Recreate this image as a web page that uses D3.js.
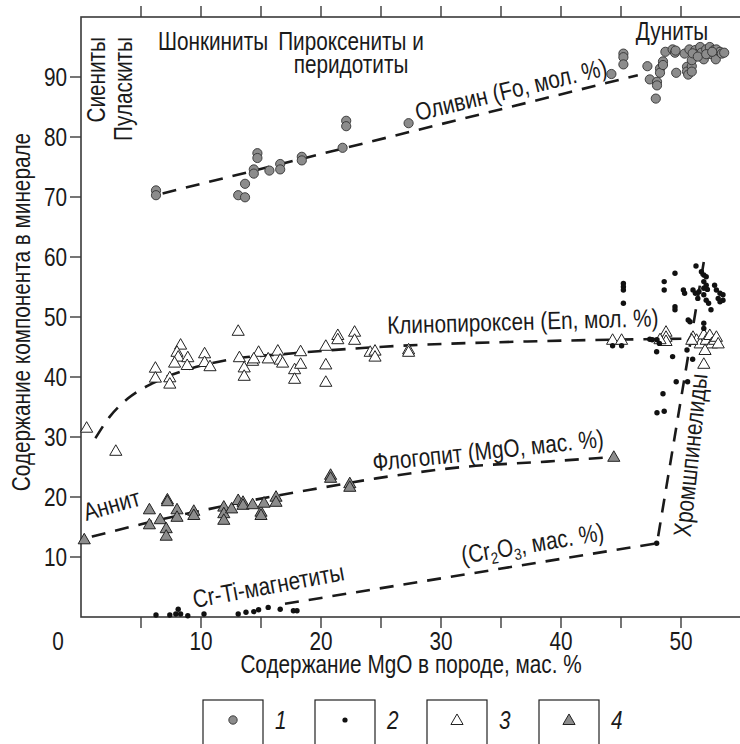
<!DOCTYPE html>
<html>
<head>
<meta charset="utf-8">
<script src="https://cdn.jsdelivr.net/npm/d3@7"></script>
<style>
  body { margin: 0; background: #fff; }
  svg text { font-family: "Liberation Sans", Arial, sans-serif; fill: #1a1a1a; }
</style>
</head>
<body>
<svg id="chart" width="740" height="744"></svg>
<script>
// ---- data (MgO in rock, component in mineral) ----
const olivine = [
  [6.25, 71.1], [6.25, 70.3], [13.1, 70.3], [13.67, 69.95], [13.67, 72.2],
  [14.4, 74.6], [14.4, 73.9], [14.7, 77.3], [14.7, 76.5], [15.7, 74.4],
  [16.6, 75.5], [16.6, 74.6], [18.4, 76.7], [18.4, 76.1], [21.8, 78.2],
  [22.1, 82.7], [22.1, 81.8], [27.3, 82.3], [44.2, 90.5], [45.2, 93.9],
  [45.2, 93.3], [45.2, 92.1], [47.2, 91.8], [47.4, 89.6], [48.0, 89.2],
  [48.0, 88.6], [47.9, 86.4], [48.25, 91.4], [48.25, 90.7], [48.5, 92.6],
  [48.5, 92.0], [48.7, 94.2], [49.3, 94.6], [49.5, 94.05], [49.55, 94.4],
  [49.6, 90.7], [50.3, 93.9], [50.5, 91.7], [50.5, 90.9], [50.6, 90.4],
  [50.9, 91.8], [50.9, 90.9], [50.9, 92.8], [50.7, 94.6], [51.2, 94.5],
  [51.3, 93.8], [51.6, 95.0], [51.7, 94.05], [51.9, 92.95], [52.1, 94.6],
  [52.4, 95.0], [52.5, 93.8], [52.75, 94.5], [52.9, 92.95], [52.95, 94.6],
  [53.25, 94.2], [53.4, 93.9], [53.6, 94.05], [50.97, 93.95], [51.4, 93.4],
  [52.1, 93.8], [52.6, 94.2]
];

const chromite = [
  [48.0, 34.05], [48.6, 34.3], [47.97, 12.3], [45.2, 55.6], [45.2, 55.05],
  [45.2, 54.5], [45.2, 52.3], [44.3, 45.2], [45.05, 45.2], [47.4, 46.3],
  [47.97, 44.2], [48.6, 55.9], [48.6, 54.5], [49.5, 57.3], [49.5, 51.7],
  [49.5, 51.2], [49.3, 43.4], [48.2, 45.6], [48.5, 37.2], [49.6, 39.2],
  [50.55, 39.2], [50.6, 49.5], [50.75, 49.2], [50.2, 54.5], [50.3, 53.95],
  [51.0, 54.5], [51.2, 53.95], [51.4, 53.1], [51.25, 58.5], [51.7, 57.55],
  [51.9, 57.0], [52.1, 56.7], [51.9, 55.9], [52.1, 55.3], [52.2, 54.6],
  [51.9, 54.8], [51.5, 54.2], [51.9, 53.7], [52.1, 52.8], [52.3, 52.3],
  [52.5, 51.2], [52.8, 55.3], [52.95, 54.5], [53.25, 53.95], [53.5, 53.7],
  [53.1, 53.1], [53.5, 52.8], [53.25, 52.55], [51.9, 48.95], [51.9, 48.1],
  [50.97, 42.95], [50.5, 44.5], [48.0, 46.2], [47.6, 46.2]
];

const magnetite = [
  [6.25, 0.33], [7.4, 0.33], [7.9, 0.5], [8.1, 1.3], [8.3, 0.5],
  [8.9, 0.2], [10.25, 0.5], [13.1, 0.5], [13.75, 0.8], [14.4, 0.9],
  [14.8, 1.2], [15.6, 1.6], [16.6, 1.3], [17.7, 1.05], [18.0, 1.05]
];

const clinopyroxene = [
  [0.47, 31.55], [2.9, 27.7], [6.2, 41.55], [6.2, 39.9], [7.4, 39.95],
  [7.4, 38.9], [8.3, 45.4], [8.0, 44.2], [8.1, 43.4], [7.8, 42.4],
  [8.9, 43.3], [8.85, 42.0], [10.3, 43.95], [10.3, 42.5], [10.75, 41.8],
  [13.1, 47.7], [13.2, 43.3], [13.6, 41.6], [13.6, 40.2], [14.3, 42.7],
  [14.8, 44.2], [14.4, 43.1], [15.6, 43.1], [16.4, 44.4], [16.6, 42.9],
  [16.8, 42.4], [17.8, 41.3], [17.8, 39.7], [18.3, 44.3], [18.3, 42.2],
  [20.4, 45.2], [20.4, 42.1], [20.4, 39.2], [21.4, 47.0], [21.4, 46.3],
  [22.8, 47.55], [22.8, 46.2], [24.1, 44.2], [24.5, 44.4], [24.5, 43.4],
  [27.3, 44.6], [27.3, 44.2], [44.3, 46.2], [45.05, 46.2], [48.75, 47.55],
  [48.75, 46.7], [48.75, 46.0], [48.25, 46.3], [51.0, 46.7], [51.3, 46.2],
  [51.6, 45.6], [51.9, 47.1], [52.1, 46.2], [52.4, 47.0], [52.55, 45.6],
  [52.8, 46.2], [52.95, 46.7], [53.1, 45.6], [52.0, 44.5], [51.9, 42.2],
  [50.9, 46.2]
];

const phlogopite = [
  [0.27, 12.95], [5.7, 17.95], [5.7, 15.45], [6.6, 16.3], [7.2, 19.6],
  [7.2, 19.3], [7.1, 14.8], [7.1, 13.55], [8.0, 17.95], [8.0, 16.7],
  [9.4, 17.7], [9.4, 17.0], [11.9, 18.4], [11.9, 17.3], [11.9, 16.2],
  [12.55, 18.1], [13.1, 19.5], [13.5, 19.2], [13.5, 18.7], [14.3, 18.8],
  [15.0, 17.55], [15.0, 17.0], [15.25, 19.05], [16.25, 20.05], [16.25, 19.2],
  [20.8, 23.7], [20.8, 23.2], [22.4, 22.3], [22.4, 21.7], [44.4, 26.7]
];

// trend lines
const olivineTrend = [[6.8, 70.6], [46.4, 90.3]];
const cpxTrend = [
  [1.2, 29.8], [2.4, 33.4], [3.9, 36.4], [5.9, 38.9], [8.8, 41.2],
  [12.1, 42.8], [17.7, 43.95], [25.2, 45.05], [38.8, 46.0], [50.8, 46.4]
];
const phlTrend = [
  [0.9, 13.4], [4.5, 15.2], [7.4, 16.6], [10.2, 17.8], [14.4, 19.5],
  [19.1, 21.2], [24.6, 23.1], [32.1, 25.05], [38.8, 25.9], [43.5, 26.55]
];
const spinelTrend = [[17.0, 2.2], [48.0, 12.3], [51.9, 59.2]];

const xTicks = [5, 10, 15, 20, 25, 30, 35, 40, 45, 50];
const xLabels = [0, 10, 20, 30, 40, 50];
const yLabels = [10, 20, 30, 40, 50, 60, 70, 80, 90];
const legendItems = ["1", "2", "3", "4"];

// ---- setup ----
const svg = d3.select("#chart");
const x = d3.scaleLinear().domain([0, 55.5]).range([81, 747]);
const y = d3.scaleLinear().domain([0, 100]).range([617, 17]);

const axisColor = "#3a3a3a";
const grayFill = "#8c8c8c";
const FS = 25;
const SX = 0.83; // horizontal squeeze, the figure uses a condensed face

/** place text: translate, rotate, then squeeze horizontally */
function place(sel, px, py, rot = 0) {
  return sel.attr("transform", (d, i) => {
    const X = typeof px === "function" ? px(d, i) : px;
    const Y = typeof py === "function" ? py(d, i) : py;
    const R = typeof rot === "function" ? rot(d, i) : rot;
    return `translate(${X},${Y}) rotate(${R}) scale(${SX},1)`;
  });
}

/* --- frame & ticks --- */
svg.append("rect")
  .attr("x", x(0)).attr("y", y(100))
  .attr("width", x(55.5) - x(0)).attr("height", y(0) - y(100))
  .attr("fill", "none").attr("stroke", axisColor).attr("stroke-width", 1.6);

svg.append("g").selectAll("line").data(xTicks).join("line")
  .attr("x1", x).attr("x2", x)
  .attr("y1", y(0)).attr("y2", y(0) + 11)
  .attr("stroke", axisColor).attr("stroke-width", 1.4);

svg.append("g").selectAll("line").data(xTicks).join("line")
  .attr("x1", x).attr("x2", x)
  .attr("y1", y(100)).attr("y2", y(100) - 11)
  .attr("stroke", axisColor).attr("stroke-width", 1.4);

svg.append("g").selectAll("line").data(yLabels).join("line")
  .attr("x1", x(0) - 11).attr("x2", x(0))
  .attr("y1", y).attr("y2", y)
  .attr("stroke", axisColor).attr("stroke-width", 1.4);

place(svg.append("g").selectAll("text").data(xLabels).join("text"),
  (d) => (d === 0 ? x(d) - 23 : x(d)), y(0) + 33)
  .attr("text-anchor", "middle")
  .attr("font-size", FS)
  .text((d) => d);

place(svg.append("g").selectAll("text").data(yLabels).join("text"),
  x(0) - 14, (d) => y(d) + 9)
  .attr("text-anchor", "end")
  .attr("font-size", FS)
  .text((d) => d);

place(svg.append("text"), 411, 673)
  .attr("text-anchor", "middle").attr("font-size", FS)
  .text("Содержание MgO в породе, мас. %");

place(svg.append("text"), 30, 312, -90)
  .attr("text-anchor", "middle").attr("font-size", FS)
  .text("Содержание компонента в минерале");

/* --- trend lines --- */
const line = d3.line().x((d) => x(d[0])).y((d) => y(d[1]));
const trends = [
  { pts: olivineTrend, curve: d3.curveLinear },
  { pts: cpxTrend, curve: d3.curveMonotoneX },
  { pts: phlTrend, curve: d3.curveMonotoneX },
  { pts: spinelTrend, curve: d3.curveLinear }
];
svg.append("g").selectAll("path").data(trends).join("path")
  .attr("d", (t) => line.curve(t.curve)(t.pts))
  .attr("fill", "none")
  .attr("stroke", "#1a1a1a")
  .attr("stroke-width", 2.6)
  .attr("stroke-dasharray", "14,10");

/* --- symbols --- */
const triUp = d3.symbol().type(d3.symbolTriangle).size(64);

svg.append("g").selectAll("path").data(clinopyroxene).join("path")
  .attr("transform", (d) => `translate(${x(d[0])},${y(d[1]) + 1})`)
  .attr("d", triUp)
  .attr("fill", "#fff").attr("stroke", "#222").attr("stroke-width", 1);

svg.append("g").selectAll("path").data(phlogopite).join("path")
  .attr("transform", (d) => `translate(${x(d[0])},${y(d[1]) + 1})`)
  .attr("d", triUp)
  .attr("fill", grayFill).attr("stroke", "#222").attr("stroke-width", 1);

svg.append("g").selectAll("circle").data(olivine).join("circle")
  .attr("cx", (d) => x(d[0])).attr("cy", (d) => y(d[1]))
  .attr("r", 4.6)
  .attr("fill", grayFill).attr("stroke", "#333").attr("stroke-width", 0.9);

svg.append("g").selectAll("circle").data(chromite.concat(magnetite)).join("circle")
  .attr("cx", (d) => x(d[0])).attr("cy", (d) => y(d[1]))
  .attr("r", 2.7)
  .attr("fill", "#111");

/* --- annotations --- */
const notes = [
  { t: "Оливин (Fo, мол. %)", x: 513, y: 98, r: -13.5 },
  { t: "Клинопироксен (En, мол. %)", x: 523, y: 330, r: -1.6 },
  { t: "Флогопит (MgO, мас. %)", x: 489, y: 459, r: -6 },
  { t: "Аннит", x: 114, y: 513, r: -16 },
  { t: "Cr-Ti-магнетиты", x: 270, y: 594, r: -10.5 },
  { t: "Хромшпинелиды", x: 699, y: 456, r: -84 },
  { t: "Дуниты", x: 672, y: 40, r: 0 },
  { t: "Шонкиниты", x: 213, y: 50, r: 0 },
  { t: "Пироксениты и", x: 351, y: 50, r: 0 },
  { t: "перидотиты", x: 351, y: 73, r: 0 }
];
place(svg.append("g").selectAll("text").data(notes).join("text"),
  (d) => d.x, (d) => d.y, (d) => d.r)
  .attr("text-anchor", "middle").attr("font-size", FS)
  .text((d) => d.t);

// Cr2O3 label with subscripts
const cr = place(svg.append("text"), 534, 552, -9.5)
  .attr("text-anchor", "middle").attr("font-size", FS);
cr.append("tspan").text("(Cr");
cr.append("tspan").attr("font-size", 16).attr("dy", 5).text("2");
cr.append("tspan").attr("dy", -5).text("O");
cr.append("tspan").attr("font-size", 16).attr("dy", 5).text("3");
cr.append("tspan").attr("dy", -5).text(", мас. %)");

place(svg.append("g").selectAll("text").data(["Сиениты", "Пуласкиты"]).join("text"),
  (d, i) => 105 + i * 27, 37, -90)
  .attr("text-anchor", "end").attr("font-size", FS)
  .text((d) => d);

/* --- legend --- */
const lg = svg.append("g").selectAll("g").data(legendItems).join("g")
  .attr("transform", (d, i) => `translate(${203 + i * 112},700)`);
lg.append("rect")
  .attr("width", 60).attr("height", 60)
  .attr("fill", "none").attr("stroke", "#222").attr("stroke-width", 1.2);
place(lg.append("text"), 72, 29)
  .attr("font-size", FS).attr("font-style", "italic")
  .text((d) => d);
lg.filter((d) => d === "1").append("circle")
  .attr("cx", 30).attr("cy", 20).attr("r", 4.2)
  .attr("fill", grayFill).attr("stroke", "#333").attr("stroke-width", 0.9);
lg.filter((d) => d === "2").append("circle")
  .attr("cx", 30).attr("cy", 20).attr("r", 2.6).attr("fill", "#111");
lg.filter((d) => d !== "1" && d !== "2").append("path")
  .attr("transform", "translate(30,21)")
  .attr("d", triUp)
  .attr("fill", (d) => (d === "3" ? "#fff" : grayFill))
  .attr("stroke", "#222").attr("stroke-width", 1);
</script>
</body>
</html>
